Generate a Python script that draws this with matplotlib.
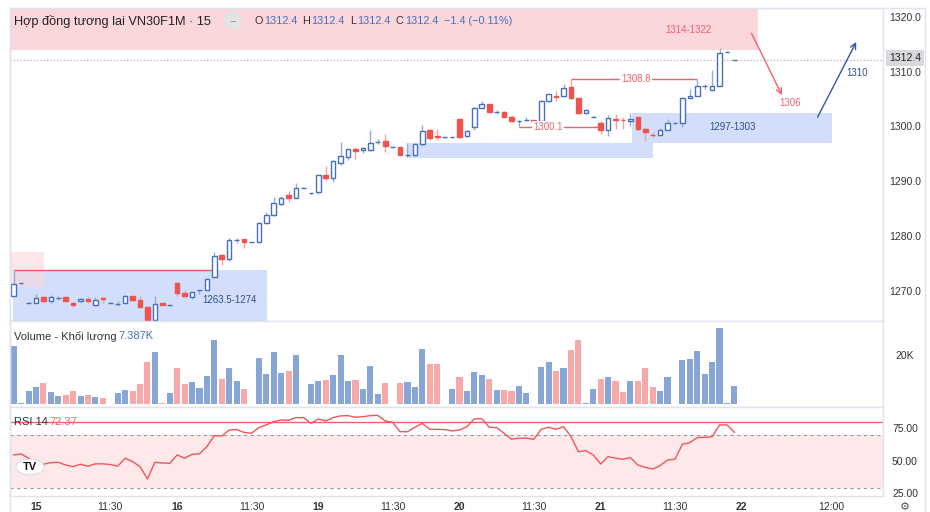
import numpy as np
import matplotlib.pyplot as plt
from matplotlib.patches import Rectangle, Circle

plt.rcParams['font.family'] = ['Liberation Sans', 'DejaVu Sans']

# nến 15 phút (giá mở, cao, thấp, đóng)
opens = [1269.3, 1271.6, 1268.0, 1268.0, 1269.0, 1268.4, 1268.9, 1269.0, 1268.0, 1268.4,
         1268.8, 1267.6, 1268.9, 1268.0, 1267.8, 1268.0, 1269.2, 1268.6, 1267.3, 1264.9,
         1267.9, 1267.6, 1271.6, 1269.8, 1269.1, 1270.3, 1270.4, 1272.8, 1276.7, 1276.1,
         1279.5, 1279.6, 1279.1, 1279.1, 1282.5, 1284.1, 1286.0, 1287.7, 1287.2, 1289.0,
         1288.0, 1288.2, 1291.3, 1290.8, 1293.6, 1294.7, 1296.1, 1295.9, 1295.9, 1297.4,
         1297.5, 1296.5, 1296.4, 1294.9, 1294.9, 1296.9, 1299.5, 1298.5, 1298.2, 1298.2,
         1301.6, 1298.4, 1300.0, 1303.6, 1304.2, 1302.8, 1302.8, 1302.0, 1301.2, 1301.4,
         1301.3, 1301.1, 1304.9, 1305.8, 1305.7, 1307.4, 1305.3, 1302.6, 1302.0, 1300.9,
         1299.6, 1301.6, 1301.4, 1301.1, 1301.9, 1299.8, 1298.7, 1298.6, 1299.6, 1300.8,
         1300.8, 1305.4, 1305.8, 1307.5, 1306.9, 1307.6, 1313.8, 1312.4]
highs = [1274.0, 1271.7, 1268.1, 1269.6, 1269.3, 1269.4, 1269.3, 1269.2, 1268.1, 1268.9,
         1269.1, 1269.0, 1269.0, 1268.1, 1268.3, 1269.4, 1269.3, 1269.2, 1267.5, 1269.2,
         1268.0, 1267.7, 1271.8, 1270.3, 1270.0, 1270.3, 1272.6, 1277.2, 1276.9, 1279.8,
         1279.8, 1279.7, 1279.2, 1282.8, 1284.6, 1287.4, 1287.5, 1288.4, 1289.9, 1289.1,
         1288.1, 1291.4, 1292.9, 1294.0, 1297.4, 1296.3, 1296.5, 1296.4, 1299.6, 1297.9,
         1298.8, 1296.6, 1296.5, 1297.1, 1297.2, 1300.5, 1299.8, 1299.8, 1298.3, 1298.3,
         1301.7, 1299.6, 1303.7, 1304.8, 1304.3, 1303.2, 1303.0, 1302.3, 1301.3, 1301.9,
         1301.4, 1305.0, 1306.2, 1306.6, 1308.0, 1308.8, 1305.4, 1303.3, 1302.1, 1301.1,
         1302.2, 1302.5, 1302.0, 1302.7, 1302.0, 1300.0, 1299.2, 1299.9, 1301.6, 1300.9,
         1305.5, 1307.0, 1308.8, 1307.9, 1310.5, 1314.5, 1313.9, 1312.4]
lows = [1269.2, 1271.5, 1267.9, 1267.9, 1267.9, 1267.9, 1268.5, 1268.2, 1267.3, 1268.2,
        1268.0, 1267.5, 1268.0, 1267.9, 1267.5, 1267.9, 1268.3, 1267.1, 1264.8, 1264.8,
        1267.6, 1267.5, 1269.3, 1269.1, 1268.7, 1269.6, 1270.3, 1272.7, 1274.9, 1275.7,
        1279.0, 1278.1, 1279.0, 1279.0, 1282.4, 1283.9, 1285.8, 1286.5, 1287.1, 1288.9,
        1287.9, 1287.8, 1290.4, 1290.0, 1293.2, 1294.0, 1294.3, 1295.4, 1295.8, 1297.0,
        1295.6, 1296.4, 1294.9, 1294.6, 1294.8, 1296.7, 1297.8, 1297.8, 1298.1, 1298.1,
        1298.1, 1298.3, 1299.5, 1303.5, 1302.8, 1302.4, 1301.9, 1301.0, 1300.1, 1301.2,
        1301.2, 1300.9, 1304.7, 1304.9, 1305.6, 1305.2, 1302.4, 1302.5, 1301.9, 1298.8,
        1298.4, 1299.8, 1299.8, 1300.2, 1299.6, 1297.5, 1298.2, 1298.4, 1299.5, 1300.7,
        1300.0, 1305.3, 1305.7, 1307.1, 1306.8, 1307.5, 1313.7, 1312.4]
closes = [1271.5, 1271.6, 1268.0, 1268.9, 1268.4, 1269.0, 1268.9, 1268.3, 1267.6, 1268.7,
          1268.3, 1268.5, 1268.7, 1268.0, 1267.8, 1269.2, 1268.6, 1267.2, 1264.9, 1267.8,
          1267.7, 1267.6, 1269.8, 1269.2, 1269.9, 1270.3, 1272.4, 1276.5, 1276.1, 1279.4,
          1279.5, 1279.1, 1279.1, 1282.5, 1284.1, 1286.2, 1287.2, 1287.1, 1289.0, 1289.0,
          1288.0, 1291.3, 1290.7, 1293.8, 1294.8, 1296.0, 1295.7, 1296.2, 1297.1, 1297.4,
          1296.6, 1296.5, 1295.0, 1294.9, 1296.9, 1299.3, 1298.1, 1298.3, 1298.2, 1298.2,
          1298.2, 1299.4, 1303.6, 1304.2, 1302.9, 1302.8, 1302.0, 1301.1, 1301.2, 1301.4,
          1301.2, 1304.9, 1306.1, 1305.6, 1307.2, 1305.3, 1302.6, 1303.2, 1302.0, 1299.6,
          1301.8, 1301.4, 1301.3, 1301.6, 1299.7, 1299.2, 1298.6, 1299.6, 1300.8, 1300.8,
          1305.4, 1305.8, 1307.5, 1307.5, 1307.6, 1313.6, 1313.8, 1312.4]

# khối lượng (nghìn hợp đồng)
volumes = [24.2, 0.3, 5.6, 7.2, 8.9, 5.1, 3.5, 3.8, 5.4, 3.5,
           3.8, 3.0, 2.5, 0.2, 4.4, 5.7, 5.4, 8.2, 17.4, 21.5,
           0.5, 4.7, 15.1, 8.2, 9.3, 6.7, 11.7, 26.7, 10.4, 14.9,
           9.4, 6.3, 0.2, 19.3, 12.4, 21.5, 13.1, 13.9, 20.3, 0.2,
           8.2, 9.6, 10.0, 12.1, 20.6, 9.6, 10.0, 6.3, 15.8, 4.2,
           8.9, 0.2, 8.6, 9.3, 7.0, 22.9, 16.5, 16.7, 0.2, 6.3,
           11.1, 5.6, 13.5, 11.9, 10.4, 6.0, 5.8, 5.4, 7.5, 4.4,
           0.2, 15.4, 17.4, 13.9, 15.1, 22.4, 26.8, 0.3, 6.3, 10.4,
           11.2, 9.6, 5.1, 9.4, 9.4, 15.1, 7.2, 5.6, 11.1, 0.2,
           18.3, 18.6, 22.1, 12.6, 17.4, 31.7, 0.3, 7.387]

rsi = [55.1, 55.9, 52.6, 48.7, 48.0, 49.2, 49.5, 47.4, 46.2, 48.0,
       46.5, 48.3, 48.3, 47.8, 46.5, 52.6, 50.0, 46.2, 36.7, 49.5,
       49.0, 48.7, 55.1, 52.6, 55.6, 55.9, 61.5, 69.9, 69.6, 74.2,
       74.5, 72.4, 71.7, 76.0, 78.1, 80.6, 81.9, 81.6, 83.7, 83.7,
       79.3, 82.6, 81.1, 83.7, 85.0, 85.2, 83.9, 84.4, 85.2, 85.4,
       81.1, 80.1, 72.9, 72.9, 76.3, 79.3, 74.7, 74.7, 74.5, 73.5,
       74.2, 76.8, 82.7, 82.9, 76.3, 76.0, 71.7, 67.1, 67.9, 67.9,
       67.1, 74.7, 76.3, 74.7, 76.8, 69.1, 57.6, 58.4, 55.1, 48.2,
       53.8, 52.6, 51.8, 53.1, 47.4, 45.6, 44.4, 46.9, 51.3, 51.8,
       63.3, 64.5, 68.4, 68.6, 69.1, 78.1, 78.1, 72.37]

price_ticks = [1270, 1280, 1290, 1300, 1310, 1320]
time_ticks = [3, 13, 22, 32, 41, 51, 60, 70, 79, 89, 98, 110]
time_labels = ['15', '11:30', '16', '11:30', '19', '11:30', '20', '11:30', '21', '11:30', '22', '12:00']

BLUE = '#4470c0'
BLUE_W = '#94acd9'
RED = '#ef5350'
RED_W = '#f5a0a0'
VBLUE = '#87a6d6'
VRED = '#f6a9a8'
GRID = '#e0e3eb'
TXT = '#333333'
LRED = '#f0616d'
DBLUE = '#2f4f8f'

W, H = 930, 512
fig = plt.figure(figsize=(W / 100, H / 100), dpi=100)


def box(top, bottom):
    return [10 / W, 1 - bottom / H, 873 / W, (bottom - top) / H]


ax = fig.add_axes(box(8, 321))
axv = fig.add_axes(box(321, 407), sharex=ax)
axr = fig.add_axes(box(407, 496), sharex=ax)

o = np.array(opens); h = np.array(highs); l = np.array(lows); c = np.array(closes)
x = np.arange(len(c))
up = c >= o
lo = np.minimum(o, c)
hi = np.maximum(o, c)

# vùng hỗ trợ / kháng cự
ax.add_patch(Rectangle((-0.5, 1314.2), 100.7, 10, fc='#fbd6da', ec='none', zorder=0.5))
ax.add_patch(Rectangle((-0.1, 1263.5), 34.2, 10.5, fc='#d2defa', ec='none', zorder=0.5))
ax.add_patch(Rectangle((-0.5, 1270.9), 4.6, 6.4, fc='#fbd6da', ec='none', alpha=0.6, zorder=0.6))
ax.add_patch(Rectangle((52.9, 1294.4), 33.2, 2.8, fc='#d2defa', ec='none', zorder=0.5))
ax.add_patch(Rectangle((83.2, 1297.2), 26.9, 5.4, fc='#d2defa', ec='none', zorder=0.5))
ax.hlines(1274.0, 0, 26.8, color='#e35a66', lw=1, zorder=1)

# nến
ax.vlines(x, hi, h, color=np.where(up, BLUE_W, RED_W), lw=1, zorder=2)
ax.vlines(x, l, lo, color=np.where(up, BLUE_W, RED_W), lw=1, zorder=2)
ax.bar(x[up], (hi - lo)[up], bottom=lo[up], width=0.62, fc='white', ec=BLUE, lw=1, zorder=3)
ax.bar(x[~up], (hi - lo)[~up], bottom=lo[~up], width=0.62, fc=RED, ec=RED, lw=1, zorder=3)

# đường giá hiện tại
ax.axhline(closes[-1], color='#a0a5b0', ls=(0, (1, 2)), lw=0.8, zorder=1)

# mức 1308.8 và 1300.1
ax.hlines(1308.8, 75, 92, color=LRED, lw=1, zorder=1)
ax.text(83.8, 1308.8, '1308.8', color=LRED, fontsize=7, ha='center', va='center',
        bbox=dict(fc='white', ec='none', pad=1), zorder=4)
ax.hlines(1300.1, 68, 79, color=LRED, lw=1, zorder=1)
ax.text(71.9, 1300.1, '1300.1', color=LRED, fontsize=7, ha='center', va='center',
        bbox=dict(fc='white', ec='none', pad=1), zorder=4)

ax.text(29.1, 1268.5, '1263.5-1274', color=DBLUE, fontsize=7, ha='center', va='center', zorder=4)
ax.text(96.7, 1300.0, '1297-1303', color=DBLUE, fontsize=7, ha='center', va='center', zorder=4)
ax.text(90.8, 1317.8, '1314-1322', color=LRED, fontsize=7, ha='center', va='center', zorder=4)

# mũi tên dự báo
ax.annotate('', xy=(103.4, 1305.9), xytext=(99.3, 1317.2),
            arrowprops=dict(arrowstyle='->', color=LRED, lw=1, shrinkA=0, shrinkB=0))
ax.text(104.5, 1304.4, '1306', color=LRED, fontsize=7, ha='center', va='center')
ax.annotate('', xy=(113.4, 1315.6), xytext=(108.2, 1301.9),
            arrowprops=dict(arrowstyle='->', color='#3556a0', lw=1, shrinkA=0, shrinkB=0))
ax.text(113.5, 1310.0, '1310', color=DBLUE, fontsize=7, ha='center', va='center')

ax.set_xlim(-0.5, 117.0)
ax.set_ylim(1264.7, 1321.8)

# khối lượng
axv.bar(x, volumes, width=0.82, color=np.where(up, VBLUE, VRED), zorder=2)
axv.set_ylim(-1.25, 34.6)

# RSI
axr.axhspan(30, 70, color='#fde9ea', lw=0, zorder=0)
axr.axhline(70, color='#9598a1', ls=(0, (3, 3)), lw=0.8)
axr.axhline(30, color='#9598a1', ls=(0, (3, 3)), lw=0.8)
axr.axhline(80, color=LRED, lw=1)
axr.plot(x, rsi, color='#f2555a', lw=1, zorder=3)
axr.set_ylim(23.7, 91.8)

for a in (ax, axv, axr):
    a.tick_params(length=0, labelbottom=False, labelleft=False)
    for s in a.spines.values():
        s.set_color(GRID)
        s.set_linewidth(1)

# nhãn trục phải
ry = ax.get_yaxis_transform()
for p in price_ticks:
    ax.text(1.0252, p, f'{p:.1f}', transform=ry, fontsize=7.5, color=TXT, ha='center', va='center')
ax.text(1.0252, closes[-1] + 0.25, f'{closes[-1]:.1f}', transform=ry, fontsize=7.5, color='#222222',
        ha='center', va='center', bbox=dict(boxstyle='square,pad=0.3', fc='#d8d9dc', ec='none'))
axv.text(1.0252, 20, '20K', transform=axv.get_yaxis_transform(), fontsize=7.5, color=TXT,
         ha='center', va='center')
for v in (75, 50, 25):
    axr.text(1.0252, v, f'{v:.2f}', transform=axr.get_yaxis_transform(), fontsize=7.5, color=TXT,
             ha='center', va='center', clip_on=False)

# nhãn thời gian
tx = axr.get_xaxis_transform()
for t, lab in zip(time_ticks, time_labels):
    axr.text(t, -0.124, lab, transform=tx, fontsize=7.5, color=TXT, ha='center', va='center',
             fontweight='bold' if ':' not in lab else 'normal')

# tiêu đề
fig.text(14 / W, 1 - 21 / H, 'Hợp đồng tương lai VN30F1M · 15', fontsize=9.2, color='#222222', va='center')
fig.text(233 / W, 1 - 21 / H, '−', fontsize=8, color='#888888', va='center', ha='center',
         bbox=dict(boxstyle='circle,pad=0.35', fc='#e4e4e6', ec='none'))

# dòng OHLC, đặt nối tiếp nhau
ohlc = [('O', TXT, 1.5), ('1312.4', BLUE, 5), ('H', TXT, 1.5), ('1312.4', BLUE, 5),
        ('L', TXT, 1.5), ('1312.4', BLUE, 5), ('C', TXT, 1.5), ('1312.4', BLUE, 5),
        ('−1.4 (−0.11%)', BLUE, 0)]
renderer = fig.canvas.get_renderer()
px = 254
for s, col, gap in ohlc:
    t = fig.text(px / W, 1 - 21 / H, s, fontsize=7.8, color=col, va='center')
    px += t.get_window_extent(renderer).width + gap

fig.text(14 / W, 1 - 336 / H, 'Volume - Khối lượng', fontsize=8, color=TXT, va='center')
fig.text(118 / W, 1 - 336 / H, '7.387K', fontsize=8, color=BLUE, va='center')
fig.text(14 / W, 1 - 422 / H, 'RSI 14', fontsize=8, color=TXT, va='center')
fig.text(49 / W, 1 - 422 / H, '72.37', fontsize=8, color=LRED, va='center')

# logo
fig.patches.append(Circle((30 / W, 1 - 467 / H), 14 / W, transform=fig.transFigure,
                          fc='white', ec='#dddddd', lw=0.8, zorder=5))
fig.text(30 / W, 1 - 467 / H, 'TV', fontsize=8, fontweight='bold', color='#111111',
         ha='center', va='center', zorder=6)
fig.text(905 / W, 1 - 507 / H, '⚙', fontsize=8, color='#555555', ha='center', va='center',
         family=['DejaVu Sans'])

# khung ngoài
fig.add_artist(plt.Line2D([925 / W, 925 / W], [0, 1 - 8 / H], transform=fig.transFigure, color=GRID, lw=1))
fig.add_artist(plt.Line2D([10 / W, 925 / W], [1 - 8 / H, 1 - 8 / H], transform=fig.transFigure, color=GRID, lw=1))
fig.add_artist(plt.Line2D([10 / W, 10 / W], [0, 1 - 8 / H], transform=fig.transFigure, color=GRID, lw=1))

fig.savefig('out.png', dpi=100, facecolor='white')
